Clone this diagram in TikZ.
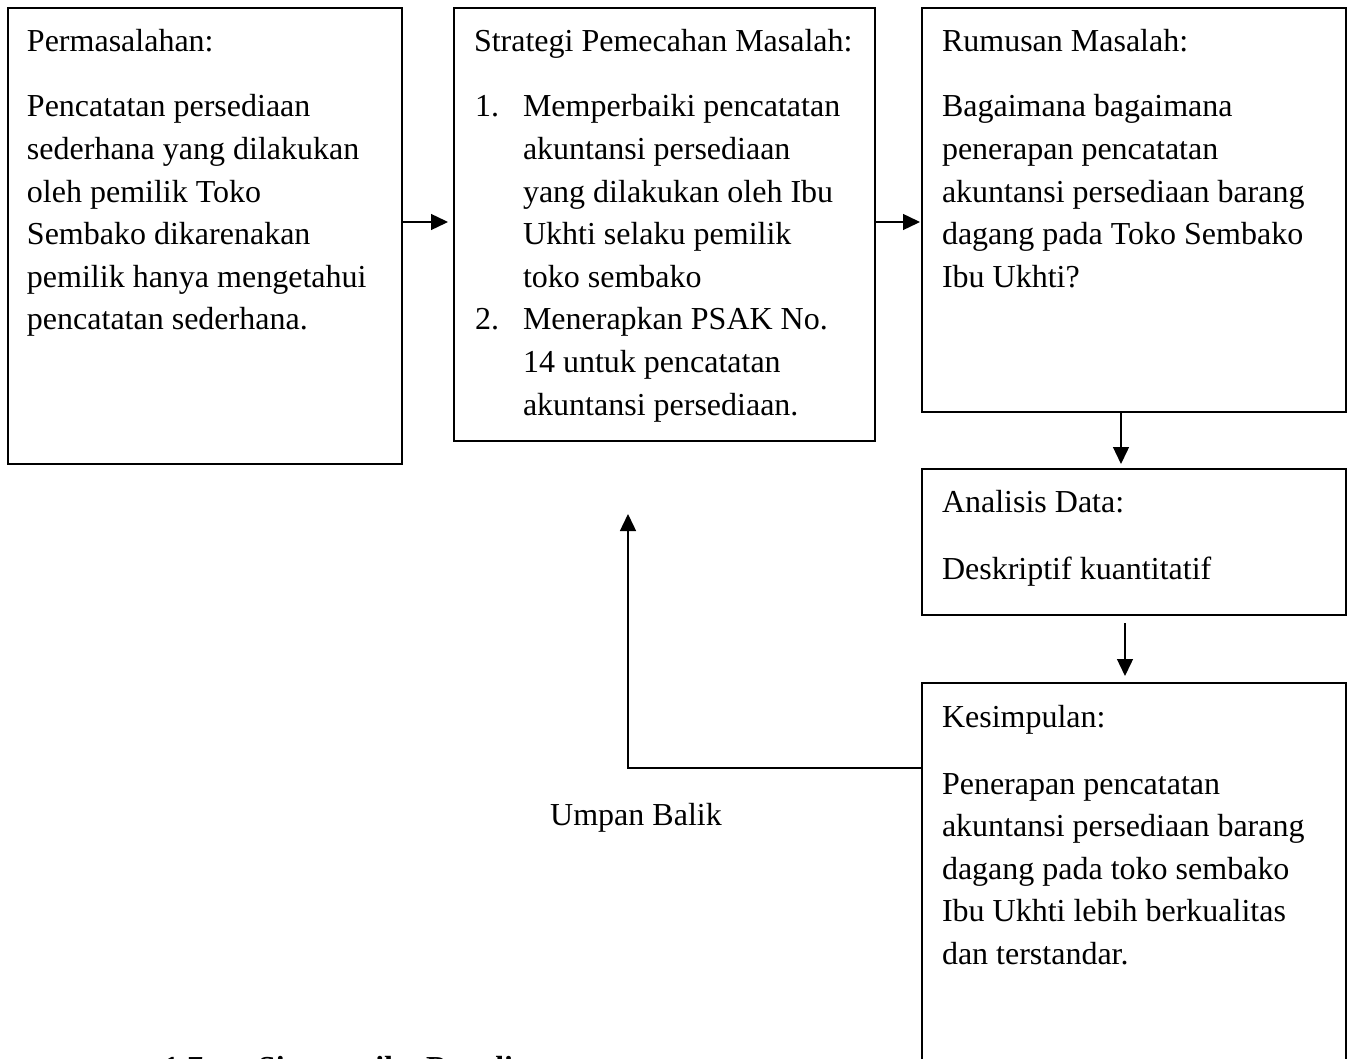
\documentclass[tikz,border=0pt]{standalone}
\usepackage{fontspec}
\setmainfont{Liberation Serif}
\usetikzlibrary{arrows.meta}
\newcommand\mylines[1]{\vtop{\halign{##\hfil\cr#1\crcr}}}
\begin{document}
\begin{tikzpicture}[x=1pt,y=-1pt,
  every node/.style={font=\fontsize{32}{42.6}\selectfont, inner sep=0pt, outer sep=0pt},
  boxstyle/.style={draw, line width=1.8pt, anchor=north west},
  txt/.style={anchor=base west},
  arr/.style={line width=1.4pt, -{Triangle[length=17pt,width=16pt]}}]
\useasboundingbox (0,0) rectangle (1349,1059);
\clip (0,0) rectangle (1349,1059);
% boxes
\node[boxstyle, minimum width=394pt, minimum height=456pt] (box1) at (8,8) {};
\node[boxstyle, minimum width=421pt, minimum height=433pt] (box2) at (454,8) {};
\node[boxstyle, minimum width=424pt, minimum height=404pt] (box3) at (922,8) {};
\node[boxstyle, minimum width=424pt, minimum height=146pt] (box4) at (922,469) {};
\node[boxstyle, minimum width=424pt, minimum height=450pt] (box5) at (922,683) {};
% texts
\node[txt] (t1a) at (27,52) {Permasalahan:};
\node[txt] (t1b) at (27,117) {\mylines{Pencatatan persediaan\cr sederhana yang dilakukan\cr oleh pemilik Toko\cr Sembako dikarenakan\cr pemilik hanya mengetahui\cr pencatatan sederhana.}};
\node[txt] (t2a) at (474,52) {Strategi Pemecahan Masalah:};
\node[txt] (n1) at (475,117) {1.};
\node[txt] (t2b) at (523,117) {\mylines{Memperbaiki pencatatan\cr akuntansi persediaan\cr yang dilakukan oleh Ibu\cr Ukhti selaku pemilik\cr toko sembako}};
\node[txt] (n2) at (475,330) {2.};
\node[txt] (t2c) at (523,330) {\mylines{Menerapkan PSAK No.\cr 14 untuk pencatatan\cr akuntansi persediaan.}};
\node[txt] (t3a) at (942,52) {Rumusan Masalah:};
\node[txt] (t3b) at (942,117) {\mylines{Bagaimana bagaimana\cr penerapan pencatatan\cr akuntansi persediaan barang\cr dagang pada Toko Sembako\cr Ibu Ukhti?}};
\node[txt] (t4a) at (942,512) {Analisis Data:};
\node[txt] (t4b) at (942,579) {Deskriptif kuantitatif};
\node[txt] (t5a) at (942,727) {Kesimpulan:};
\node[txt] (t5b) at (942,794) {\mylines{Penerapan pencatatan\cr akuntansi persediaan barang\cr dagang pada toko sembako\cr Ibu Ukhti lebih berkualitas\cr dan terstandar.}};
\node[anchor=base] (lbl) at (636,825) {Umpan Balik};
% heading (cut off at the lower edge, as in the reference)
\node[txt, font=\fontsize{32}{42.6}\selectfont\bfseries] (h1) at (163,1078) {1.7};
\node[txt, font=\fontsize{32}{42.6}\selectfont\bfseries] (h2) at (258,1078) {Sistematika Penulisan};
% connectors
\coordinate (a1) at (448,222);
\coordinate (a2) at (920,222);
\coordinate (a3) at (1121,464);
\coordinate (a4s) at (1125,623);
\coordinate (a4e) at (1125,676);
\coordinate (fbs) at (922,768);
\coordinate (fb) at (628,514);
\draw[arr] (box1.east |- a1) -- (a1);
\draw[arr] (box2.east |- a2) -- (a2);
\draw[arr] (box3.south -| a3) -- (a3);
\draw[arr] (a4s) -- (a4e);
\draw[arr] (fbs) -| (fb);
\end{tikzpicture}
\end{document}
